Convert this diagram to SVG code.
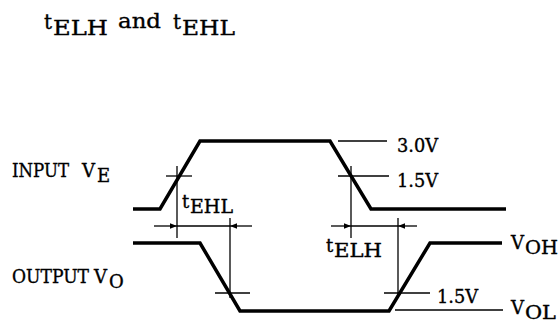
<svg xmlns="http://www.w3.org/2000/svg" width="559" height="325" viewBox="0 0 559 325">
<defs>
<style>
.wave{fill:none;stroke:#000;stroke-width:3.5;stroke-linejoin:miter}
.thin{fill:none;stroke:#000;stroke-width:1.3}
text{font-family:"DejaVu Serif","Liberation Serif",serif;font-size:18px;fill:#000;stroke:#000;stroke-width:0.35}
.ttl{font-size:20px}
</style>
<marker id="ah" viewBox="0 0 10 8" refX="10" refY="4" markerWidth="7" markerHeight="5.6" orient="auto" markerUnits="userSpaceOnUse">
<path d="M0,0 L10,4 L0,8 z" fill="#000"/>
</marker>
</defs>
<g id="title">
<text class="ttl" x="44" y="29">t</text>
<text class="ttl" x="53" y="35" textLength="55" lengthAdjust="spacingAndGlyphs">ELH</text>
<text class="ttl" x="118" y="28" textLength="43" lengthAdjust="spacingAndGlyphs">and</text>
<text class="ttl" x="173" y="29">t</text>
<text class="ttl" x="182" y="35" textLength="53" lengthAdjust="spacingAndGlyphs">EHL</text>
</g>
<g id="input-label">
<text x="12" y="177" textLength="57" lengthAdjust="spacingAndGlyphs">INPUT</text>
<text x="82" y="177">V</text><text x="97" y="182">E</text>
</g>
<g id="output-label">
<text x="12" y="283" textLength="77" lengthAdjust="spacingAndGlyphs">OUTPUT</text>
<text x="94" y="283">V</text><text x="109" y="288">O</text>
</g>
<g id="input-wave"><polyline class="wave" points="133,209 160,209 200,141 330,141 371,209 506,209"/></g>
<g id="output-wave"><polyline class="wave" points="133,243 200,243 240,311 389,311 430,243 502,243"/></g>
<g id="levels">
<line class="thin" x1="338" y1="141" x2="387" y2="141"/>
<line class="thin" x1="338" y1="176" x2="389" y2="176"/>
<line class="thin" x1="166" y1="176" x2="192" y2="176"/>
<line class="thin" x1="215" y1="293" x2="250" y2="293"/>
<line class="thin" x1="384" y1="293" x2="430" y2="293"/>
<line class="thin" x1="395" y1="310" x2="503" y2="310"/>
<text x="397" y="152" textLength="41" lengthAdjust="spacingAndGlyphs">3.0V</text>
<text x="397" y="187" textLength="41" lengthAdjust="spacingAndGlyphs">1.5V</text>
<text x="437" y="303" textLength="41" lengthAdjust="spacingAndGlyphs">1.5V</text>
<text x="511" y="249">V</text><text x="525" y="254" textLength="33" lengthAdjust="spacingAndGlyphs">OH</text>
<text x="511" y="314">V</text><text x="525" y="319" textLength="31" lengthAdjust="spacingAndGlyphs">OL</text>
</g>
<g id="connectors">
<line class="thin" x1="177" y1="166" x2="177" y2="238"/>
<line class="thin" x1="230" y1="218" x2="230" y2="298"/>
<line class="thin" x1="154" y1="226" x2="177" y2="226" marker-end="url(#ah)"/>
<line class="thin" x1="177" y1="226" x2="230" y2="226"/>
<line class="thin" x1="252" y1="226" x2="230" y2="226" marker-end="url(#ah)"/>
<line class="thin" x1="351" y1="166" x2="351" y2="238"/>
<line class="thin" x1="398" y1="218" x2="398" y2="298"/>
<line class="thin" x1="331" y1="226" x2="351" y2="226" marker-end="url(#ah)"/>
<line class="thin" x1="351" y1="226" x2="398" y2="226"/>
<line class="thin" x1="417" y1="226" x2="398" y2="226" marker-end="url(#ah)"/>
</g>
<g id="dim-labels">
<text x="182" y="208">t</text><text x="190" y="213" textLength="43" lengthAdjust="spacingAndGlyphs">EHL</text>
<text x="326" y="252">t</text><text x="334" y="257" textLength="48" lengthAdjust="spacingAndGlyphs">ELH</text>
</g>
</svg>
